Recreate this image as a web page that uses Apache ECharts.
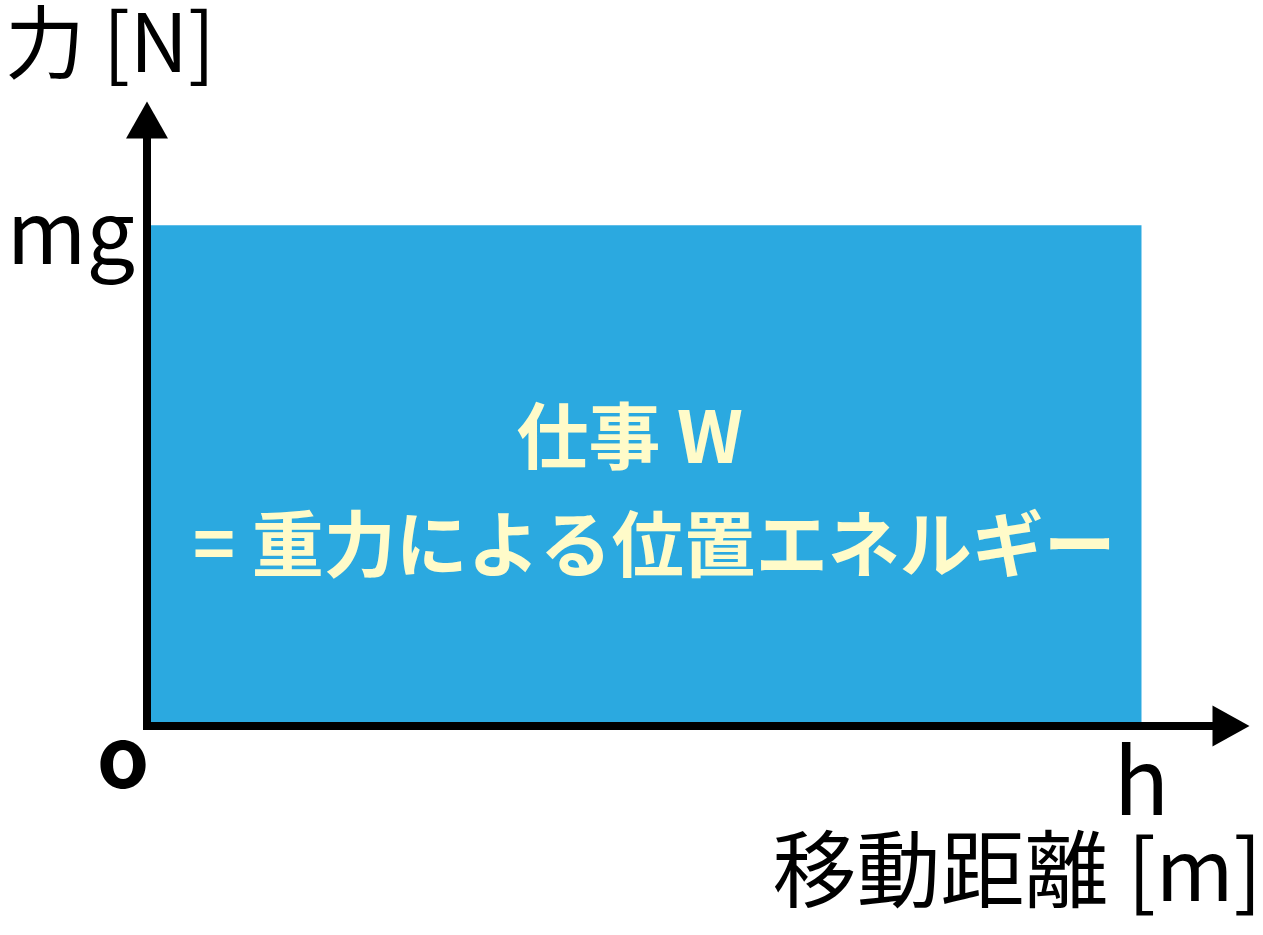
<!DOCTYPE html>
<html>
<head>
<meta charset="utf-8">
<title>仕事と位置エネルギー</title>
<script src="https://cdn.jsdelivr.net/npm/echarts@6/dist/echarts.min.js"></script>
<style>
	html, body { margin: 0; padding: 0; background: #fff; }
	#main { width: 1263px; height: 935px; }
</style>
</head>
<body>
<div id="main"></div>
<script>
// 移動距離 (h = 1) と 力 (mg = 1)
var distances = [0, 1];
var forces = [1, 1];
// 軸の目盛り
var xTickValues = [0, 1];
var xTickLabels = ['o', 'h'];
var yTickValues = [1];
var yTickLabels = ['mg'];
// 面積の中の文字
var areaText = ['仕事 W   ', '= 重力による位置エネルギー'];

var WorkChart = {
	font : 'Noto Sans CJK JP',

	init : function() {
		var chart = echarts.init(document.getElementById('main'));
		chart.setOption(WorkChart.buildOption(), true);
	},

	buildOption : function() {
		var points = [];
		for (var i = 0; i < distances.length; i++) {
			points.push([ distances[i], forces[i] ]);
		}
		var option = {
			animation : false,
			backgroundColor : '#fff',
			grid : {
				left : 147,
				right : 32,
				top : 120,
				bottom : 209,
				containLabel : false,
				outerBoundsMode : 'none'
			},
			xAxis : {
				type : 'value',
				min : 0,
				max : 1.09,
				z : 10,
				name : '移動距離 [m]',
				nameLocation : 'end',
				nameGap : 31,
				nameMoveOverlap : false,
				nameTextStyle : {
					fontFamily : WorkChart.font,
					fontSize : 84,
					color : '#000',
					align : 'right',
					verticalAlign : 'top',
					padding : [ 101, 0, 0, 0 ]
				},
				axisLine : {
					show : true,
					symbol : [ 'none', 'triangle' ],
					symbolSize : [ 41, 37 ],
					lineStyle : {
						color : '#000',
						width : 8
					}
				},
				axisTick : { show : false },
				splitLine : { show : false },
				axisLabel : {
					customValues : xTickValues,
					margin : 8,
					hideOverlap : false,
					formatter : function(value) {
						var idx = xTickValues.indexOf(value);
						var text = idx >= 0 ? xTickLabels[idx] : '';
						return idx === 0 ? '{o|' + text + '}' : '{h|' + text + '}';
					},
					rich : {
						o : {
							fontFamily : WorkChart.font,
							fontSize : 84,
							fontWeight : 'bold',
							color : '#000',
							lineHeight : 44,
							padding : [ 0, 48, 0, 0 ]
						},
						h : {
							fontFamily : WorkChart.font,
							fontSize : 92,
							color : '#000'
						}
					}
				}
			},
			yAxis : {
				type : 'value',
				min : 0,
				max : 1.21,
				z : 10,
				name : '力 [N]',
				nameLocation : 'end',
				nameGap : 38,
				nameMoveOverlap : false,
				nameTextStyle : {
					fontFamily : WorkChart.font,
					fontSize : 80,
					color : '#000',
					align : 'center',
					padding : [ 0, 74, 0, 0 ]
				},
				axisLine : {
					show : true,
					symbol : [ 'none', 'triangle' ],
					symbolSize : [ 42, 37 ],
					lineStyle : {
						color : '#000',
						width : 8,
						cap : 'square'
					}
				},
				axisTick : { show : false },
				splitLine : { show : false },
				axisLabel : {
					customValues : yTickValues,
					margin : 12,
					formatter : function(value) {
						var idx = yTickValues.indexOf(value);
						return idx >= 0 ? '{mg|' + yTickLabels[idx] + '}' : '';
					},
					rich : {
						mg : {
							fontFamily : WorkChart.font,
							fontSize : 86,
							color : '#000',
							padding : [ 12, 0, 0, 0 ]
						}
					}
				}
			},
			series : [ {
				name : '仕事 W',
				type : 'line',
				z : 1,
				symbol : 'none',
				silent : true,
				lineStyle : { width : 0 },
				areaStyle : {
					color : '#2BA9E0',
					opacity : 1
				},
				markArea : {
					silent : true,
					itemStyle : { color : 'rgba(0,0,0,0)' },
					label : {
						show : true,
						position : 'inside',
						offset : [ 10, 14 ],
						formatter : areaText.join('\n'),
						fontFamily : WorkChart.font,
						fontSize : 72,
						fontWeight : 'bold',
						lineHeight : 108,
						color : '#FFFBC9',
						align : 'center'
					},
					data : [ [ {
						coord : [ distances[0], 0 ]
					}, {
						coord : [ distances[distances.length - 1], forces[forces.length - 1] ]
					} ] ]
				},
				data : points
			} ]
		};
		return option;
	}
};

WorkChart.init();
</script>
</body>
</html>
